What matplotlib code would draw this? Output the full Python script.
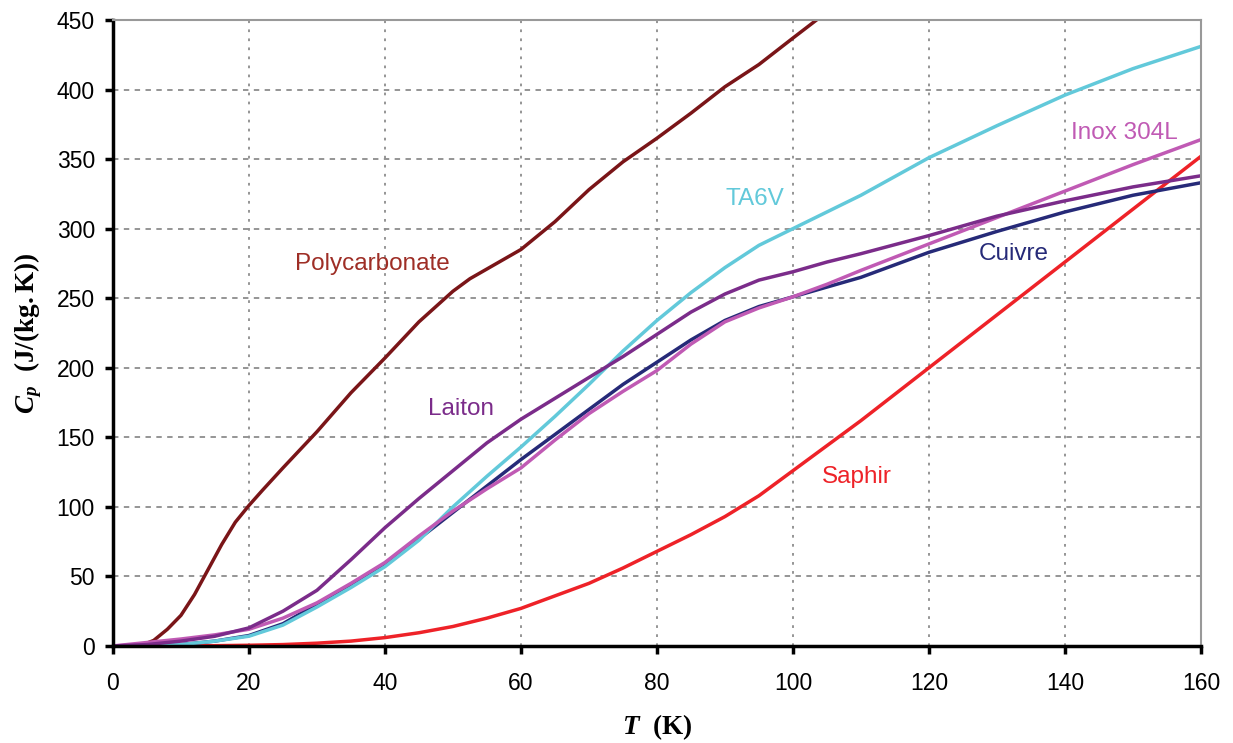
import matplotlib.pyplot as plt

plt.rcParams['font.family'] = ['Liberation Sans', 'DejaVu Sans']
plt.rcParams['mathtext.fontset'] = 'custom'
plt.rcParams['mathtext.rm'] = 'Liberation Serif:bold'
plt.rcParams['mathtext.it'] = 'Liberation Serif:bold:italic'
plt.rcParams['mathtext.bf'] = 'Liberation Serif:bold'

# Capacité thermique massique Cp (J/(kg.K)) en fonction de T (K)
T_poly = [0, 4, 6, 8, 10, 12, 14, 16, 18, 20, 22, 25, 30, 35, 40, 45, 50, 52.5, 55, 57.5, 60, 65, 70, 75, 80, 85, 90, 95, 100, 104]
cp_poly = [0, 0, 4, 12, 22, 37, 55, 73, 89, 101, 112, 128, 154, 182, 207, 233, 255, 264, 271, 278, 285, 305, 328, 348, 365, 383, 402, 418, 437, 452]

T_std = [0, 5, 10, 15, 20, 25, 30, 35, 40, 45, 50, 55, 60, 65, 70, 75, 80, 85, 90, 95, 100, 105, 110, 120, 130, 140, 150, 160]
cp_cuivre = [0, 0.3, 1, 3.5, 7.5, 16, 30, 44, 59, 77, 96, 115, 134, 152, 170, 188, 204, 220, 234, 244, 251, 258, 265, 283, 298, 312, 324, 333]
cp_laiton = [0, 1, 3.5, 7, 13, 25, 40, 62, 85, 106, 126, 146, 163, 178, 193, 208, 224, 240, 253, 263, 269, 276, 282, 295, 309, 320, 330, 338]
cp_inox = [0, 2.5, 5, 8, 12, 20, 31, 45, 60, 79, 97, 113, 128, 148, 167, 183, 198, 217, 233, 243, 251, 260, 270, 289, 308, 327, 346, 364]
cp_ta6v = [0, 0.3, 1, 3.5, 7, 15, 28, 42, 57, 76, 100, 122, 143, 165, 188, 212, 234, 254, 272, 288, 300, 312, 324, 351, 374, 396, 415, 431]
cp_saphir = [0, 0, 0, 0.2, 0.5, 1, 2, 3.5, 6, 9.5, 14, 20, 27, 36, 45, 56, 68, 80, 93, 108, 126, 144, 162, 200, 238, 276, 314, 352]

fig = plt.figure(figsize=(12.33, 7.43), dpi=100)
ax = fig.add_axes([0.0916, 0.1306, 0.8824, 0.8425])

lw = 2.5
ax.plot(T_poly, cp_poly, color="#7A1518", lw=lw)
ax.plot(T_std, cp_saphir, color="#EE2228", lw=lw)
ax.plot(T_std, cp_cuivre, color="#262A78", lw=lw)
ax.plot(T_std, cp_ta6v, color="#62C9DA", lw=lw)
ax.plot(T_std, cp_inox, color="#C05AB4", lw=lw)
ax.plot(T_std, cp_laiton, color="#7B2C8A", lw=lw)

# étiquettes des courbes
fs = 17.5
ax.text(38.2, 274.6, "Polycarbonate", color="#9E2E26", fontsize=fs, ha="center", va="center")
ax.text(94.4, 321, "TA6V", color="#62C9DA", fontsize=fs, ha="center", va="center")
ax.text(148.7, 368.8, "Inox 304L", color="#C05AB4", fontsize=fs, ha="center", va="center")
ax.text(132.4, 281.8, "Cuivre", color="#262A78", fontsize=fs, ha="center", va="center")
ax.text(109.4, 121.5, "Saphir", color="#EE2228", fontsize=fs, ha="center", va="center")
ax.text(51.2, 170.4, "Laiton", color="#7B2C8A", fontsize=fs, ha="center", va="center")

ax.set_xlim(0, 160)
ax.set_ylim(0, 450)
ax.set_xticks(range(0, 161, 20))
ax.set_yticks(range(0, 451, 50))
ax.tick_params(axis="both", direction="out", length=6, width=2.5, labelsize=16.5,
               top=False, right=False)
ax.tick_params(axis="x", pad=13)
ax.tick_params(axis="y", pad=7)

ax.xaxis.grid(True, linestyle=(0, (1.5, 3.5)), color="#8c8c8c", lw=1.3)
ax.yaxis.grid(True, linestyle=(0, (3, 3)), color="#8c8c8c", lw=1.3)

for s in ["left", "bottom"]:
    ax.spines[s].set_linewidth(2.5)
    ax.spines[s].set_color("black")
for s in ["top", "right"]:
    ax.spines[s].set_linewidth(1.5)
    ax.spines[s].set_color("#999999")

ax.set_xlabel(r"$T\ \ \mathrm{(K)}$", fontsize=19.5, labelpad=12)
ax.set_ylabel(r"$C_p\ \ \mathrm{(J/(kg.K))}$", fontsize=19.5, labelpad=9)

plt.savefig("out.png", dpi=100)
